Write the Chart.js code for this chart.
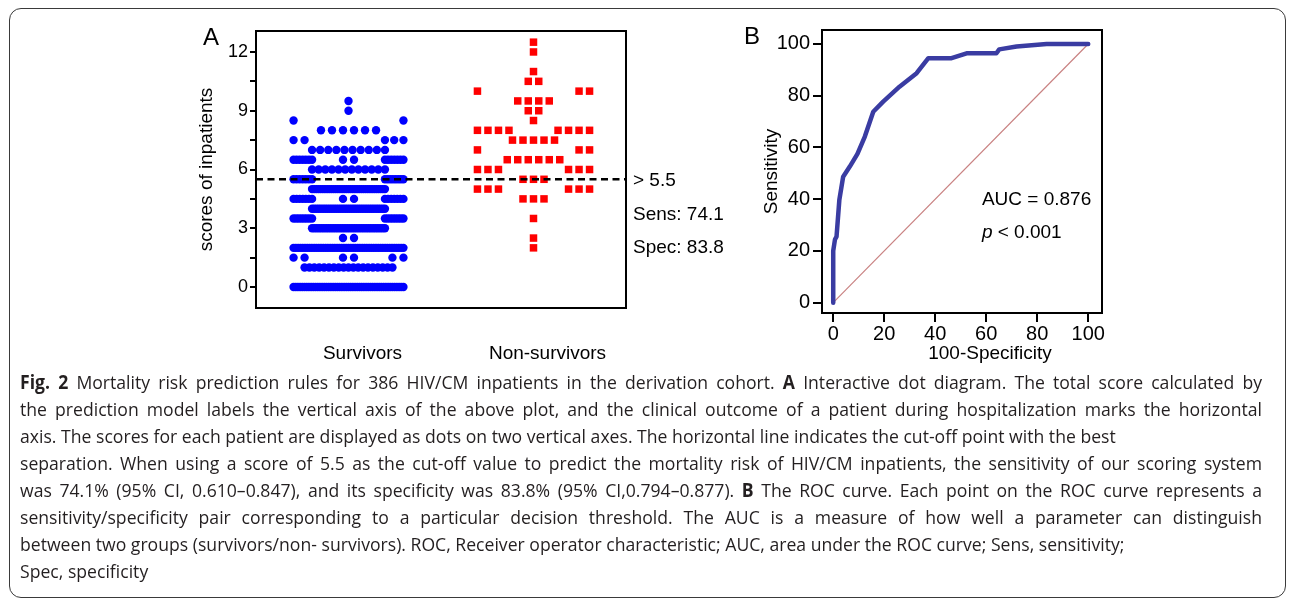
<!DOCTYPE html>
<html>
<head>
<meta charset="utf-8">
<script src="https://cdn.jsdelivr.net/npm/chart.js@4.4.1/dist/chart.umd.min.js"></script>
<style>
  body { margin: 0; background: #fff; width: 1292px; height: 599px; position: relative; overflow: hidden; }
  #frame { position: absolute; left: 9px; top: 8px; width: 1277px; height: 590px; border: 1.5px solid #3a3a3a; border-radius: 12px; box-sizing: border-box; }
  #cA { position: absolute; left: 150px; top: 0; }
  #cB { position: absolute; left: 730px; top: 0; }
  #cap { position: absolute; left: 20px; top: 369px; font-family: 'Open Sans', sans-serif; font-size: 19px; line-height: 27px; color: #231f20; transform-origin: 0 0; white-space: nowrap; }
  #cap b { font-weight: 700; }
  #cap .j { text-align: justify; text-align-last: justify; }
</style>
</head>
<body>
<div id="frame"></div>
<canvas id="cA" width="600" height="370"></canvas>
<canvas id="cB" width="420" height="370"></canvas>
<div id="cap">
  <div class="j"><span><b>Fig. 2</b> Mortality risk prediction rules for 386 HIV/CM inpatients in the derivation cohort. <b>A</b> Interactive dot diagram. The total score calculated by</span></div>
  <div class="j"><span>the prediction model labels the vertical axis of the above plot, and the clinical outcome of a patient during hospitalization marks the horizontal</span></div>
  <div><span id="l3">axis. The scores for each patient are displayed as dots on two vertical axes. The horizontal line indicates the cut-off point with the best</span></div>
  <div class="j"><span>separation. When using a score of 5.5 as the cut-off value to predict the mortality risk of HIV/CM inpatients, the sensitivity of our scoring system</span></div>
  <div class="j"><span>was 74.1% (95% CI, 0.610–0.847), and its specificity was 83.8% (95% CI,0.794–0.877). <b>B</b> The ROC curve. Each point on the ROC curve represents a</span></div>
  <div class="j"><span>sensitivity/specificity pair corresponding to a particular decision threshold. The AUC is a measure of how well a parameter can distinguish</span></div>
  <div><span id="l7">between two groups (survivors/non- survivors). ROC, Receiver operator characteristic; AUC, area under the ROC curve; Sens, sensitivity;</span></div>
  <div><span>Spec, specificity</span></div>
</div>
<script>
const groups = ['Survivors', 'Non-survivors'];

// survivors: score rows, patients per row, how many of them sit at the outer edges
const survScores = [0, 1, 1.5, 2, 2.5, 3, 3.5, 4, 4.5, 5, 5.5, 6, 6.5, 7, 7.5, 8, 8.5, 9, 9.5];
const survCounts = [51, 19, 6, 49, 2, 32, 16, 34, 16, 35, 15, 12, 16, 10, 5, 6, 2, 1, 1];
const survOuter  = [0, 0, 4, 0, 0, 0, 16, 0, 14, 0, 15, 0, 14, 0, 5, 0, 2, 0, 0];

// non-survivors
const deadScores = [2, 2.5, 3.5, 4.5, 5, 5.5, 6, 6.5, 7, 7.5, 8, 8.5, 9, 9.5, 10, 10.5, 11, 12, 12.5];
const deadCounts = [1, 1, 1, 3, 6, 3, 6, 6, 3, 5, 8, 1, 2, 4, 3, 2, 1, 1, 1];
const deadOuter  = [0, 0, 0, 0, 6, 0, 6, 0, 3, 0, 8, 0, 0, 0, 3, 0, 0, 0, 0];

const cutoff = 5.5;
const yTicksA = [0, 3, 6, 9, 12];

// ROC curve (100-specificity, sensitivity)
const rocFpr = [0, 0, 0.7, 1.3, 2.4, 3.9, 6.5, 9.5, 12.4, 15.7, 19.6, 26, 32.7, 37.3, 46.4, 52.3, 64, 65.1, 71.9, 83.7, 100];
const rocTpr = [0, 20, 24.5, 25.5, 39.7, 48.7, 52.6, 57.5, 64.2, 73.8, 77.7, 83.5, 88.7, 94.5, 94.5, 96.4, 96.4, 97.9, 99, 100, 100];
const ticksB = [0, 20, 40, 60, 80, 100];
const aucText = 'AUC = 0.876';
const pText = '< 0.001';

const FONT = '"Liberation Sans", Arial, sans-serif';
Chart.defaults.font.family = FONT;
Chart.defaults.color = '#000';

// sens / spec at the cut-off, from the counts
const sum = a => a.reduce((s, v) => s + v, 0);
const over = (sc, ct) => sum(ct.filter((c, i) => sc[i] > cutoff));
const sens = (100 * over(deadScores, deadCounts) / sum(deadCounts)).toFixed(1);
const spec = (100 * (1 - over(survScores, survCounts) / sum(survCounts))).toFixed(1);

// spread each score row sideways (x offsets in category units)
function layoutRows(scores, counts, outer, o) {
    const sides = i => [Math.floor(outer[i] / 2), Math.ceil(outer[i] / 2)];
    const sideStep = k => k > 1 ? Math.min(o.gap, o.sideMax / (k - 1)) : 0;
    const span = k => k > 1 ? (k - 1) * sideStep(k) : 0;
    const pts = [];
    scores.forEach((y, i) => {
        const [nl, nr] = sides(i);
        for (let j = 0; j < nl; j++) pts.push({ dx: -o.half + j * sideStep(nl), y });
        for (let j = 0; j < nr; j++) pts.push({ dx: o.half - j * sideStep(nr), y });
        let lim = o.half;
        const up = scores.indexOf(y + 0.5);
        if (up >= 0) { const [ul, ur] = sides(up); lim -= Math.max(span(ul), span(ur)); }
        const c = counts[i] - outer[i];
        const step = c > 1 ? Math.min(o.gap, 2 * lim / (c - 1)) : 0;
        for (let j = 0; j < c; j++) pts.push({ dx: (j - (c - 1) / 2) * step, y });
    });
    return pts;
}

const survPts = layoutRows(survScores, survCounts, survOuter, { gap: 0.0595, half: 0.297, sideMax: 0.1 })
    .map(p => ({ x: 1 + p.dx, y: p.y }));
const deadPts = layoutRows(deadScores, deadCounts, deadOuter, { gap: 0.0568, half: 0.303, sideMax: 1 })
    .map(p => ({ x: 2 + p.dx, y: p.y }));

function drawBox(chart) {
    const { ctx, chartArea: a } = chart;
    ctx.save();
    ctx.strokeStyle = '#000';
    ctx.lineWidth = 2;
    ctx.strokeRect(a.left, a.top, a.right - a.left, a.bottom - a.top);
    ctx.restore();
}

const extrasA = {
    id: 'extrasA',
    afterDraw(chart) {
        drawBox(chart);
        const { ctx, chartArea: a } = chart;
        const yc = chart.scales.y.getPixelForValue(cutoff);
        ctx.save();
        ctx.fillStyle = '#000';
        ctx.textBaseline = 'middle';
        ctx.textAlign = 'left';
        ctx.font = '19px ' + FONT;
        ctx.fillText('> ' + cutoff, a.right + 7, yc + 1);
        ctx.fillText('Sens: ' + sens, a.right + 7, yc + 35);
        ctx.fillText('Spec: ' + spec, a.right + 7, yc + 68);
        ctx.font = '24px ' + FONT;
        ctx.fillText('A', a.left - 53, a.top + 7);
        ctx.restore();
    }
};

const extrasB = {
    id: 'extrasB',
    afterDraw(chart) {
        drawBox(chart);
        const { ctx, chartArea: a } = chart;
        const x = chart.scales.x, y = chart.scales.y;
        ctx.save();
        ctx.fillStyle = '#000';
        ctx.textBaseline = 'middle';
        ctx.textAlign = 'left';
        ctx.font = '19px ' + FONT;
        const tx = x.getPixelForValue(58.3);
        ctx.fillText(aucText, tx, y.getPixelForValue(39.7));
        const py = y.getPixelForValue(26.9);
        ctx.font = 'italic 19px ' + FONT;
        ctx.fillText('p', tx, py);
        const w = ctx.measureText('p ').width;
        ctx.font = '19px ' + FONT;
        ctx.fillText(pText, tx + w, py);
        ctx.textAlign = 'center';
        ctx.fillText('100-Specificity', (a.left + a.right) / 2 + 28, a.bottom + 41);
        ctx.textAlign = 'left';
        ctx.font = '24px ' + FONT;
        ctx.fillText('B', a.left - 78, a.top + 7);
        ctx.restore();
    }
};

// ---- panel A ----
new Chart(document.getElementById('cA'), {
    type: 'scatter',
    data: {
        datasets: [
            { data: [{ x: 0.5, y: cutoff }, { x: 2.5, y: cutoff }], showLine: true, borderColor: '#000', borderWidth: 2.5, borderDash: [7, 4.5], pointRadius: 0 },
            { label: groups[0], data: survPts, pointStyle: 'circle', pointRadius: 4.2, pointBorderWidth: 0, backgroundColor: '#0000ff' },
            { label: groups[1], data: deadPts, pointStyle: 'rect', pointRadius: 5.3, pointBorderWidth: 0, backgroundColor: '#ff0000' }
        ]
    },
    options: {
        responsive: false, animation: false,
        layout: { padding: { left: 0, top: 31, right: 124, bottom: 0 } },
        plugins: { legend: { display: false }, tooltip: { enabled: false } },
        scales: {
            x: {
                type: 'linear', min: 0.5, max: 2.5,
                afterBuildTicks: s => { s.ticks = groups.map((g, i) => ({ value: i + 1 })); },
                afterFit: s => { s.height = 62; },
                grid: { display: false, drawTicks: false },
                border: { display: false },
                ticks: { callback: v => groups[v - 1], labelOffset: 14, padding: 34, font: { size: 19 }, autoSkip: false, maxRotation: 0 }
            },
            y: {
                min: -1.07, max: 13.07,
                afterBuildTicks: s => {
                    const t = [];
                    yTicksA.forEach((v, i) => { t.push({ value: v }); if (i < yTicksA.length - 1) t.push({ value: (v + yTicksA[i + 1]) / 2 }); });
                    s.ticks = t;
                },
                afterFit: s => { s.width = 106; },
                grid: { drawOnChartArea: false, drawTicks: true, tickLength: 6, color: '#000', lineWidth: 2 },
                border: { display: false },
                ticks: { callback: v => yTicksA.includes(v) ? String(v) : '', padding: 2, font: { size: 18 }, autoSkip: false },
                title: { display: true, text: 'scores of inpatients', font: { size: 19 }, padding: { top: 45, bottom: 0 } }
            }
        }
    },
    plugins: [extrasA]
});

// ---- panel B ----
new Chart(document.getElementById('cB'), {
    type: 'scatter',
    data: {
        datasets: [
            { data: rocFpr.map((x, i) => ({ x, y: rocTpr[i] })), showLine: true, borderColor: '#3a3ca2', borderWidth: 4.5, pointRadius: 0, borderJoinStyle: 'round', borderCapStyle: 'round' },
            { data: [{ x: 0, y: 0 }, { x: 100, y: 100 }], showLine: true, borderColor: '#c98282', borderWidth: 1.2, pointRadius: 0 }
        ]
    },
    options: {
        responsive: false, animation: false,
        layout: { padding: { left: 0, top: 30, right: 48, bottom: 0 } },
        plugins: { legend: { display: false }, tooltip: { enabled: false } },
        scales: {
            x: {
                type: 'linear', min: -4.4, max: 105.4,
                afterBuildTicks: s => { s.ticks = ticksB.map(v => ({ value: v })); },
                afterFit: s => { s.height = 57; },
                grid: { drawOnChartArea: false, drawTicks: true, tickLength: 9, color: '#000', lineWidth: 2 },
                border: { display: false },
                ticks: { padding: 0, font: { size: 20 }, autoSkip: false, maxRotation: 0 }
            },
            y: {
                min: -4, max: 105.4,
                afterBuildTicks: s => { s.ticks = ticksB.map(v => ({ value: v })); },
                afterFit: s => { s.width = 92; },
                grid: { drawOnChartArea: false, drawTicks: true, tickLength: 9, color: '#000', lineWidth: 2 },
                border: { display: false },
                ticks: { padding: 3, font: { size: 20 }, autoSkip: false },
                title: { display: true, text: 'Sensitivity', font: { size: 19 }, padding: { top: 30, bottom: 0 } }
            }
        }
    },
    plugins: [extrasB]
});

// condense the caption a little, full lines are justified to the column width
function fitCaption() {
    const cap = document.getElementById('cap');
    cap.style.transform = 'none';
    cap.style.width = 'auto';
    const w3 = document.getElementById('l3').offsetWidth;
    const w7 = document.getElementById('l7').offsetWidth;
    const k = (1110 + 1090) / (w3 + w7);
    cap.style.width = (1242 / k) + 'px';
    cap.style.transform = 'scaleX(' + k + ')';
}
fitCaption();
if (document.fonts) document.fonts.ready.then(fitCaption);
</script>
</body>
</html>
